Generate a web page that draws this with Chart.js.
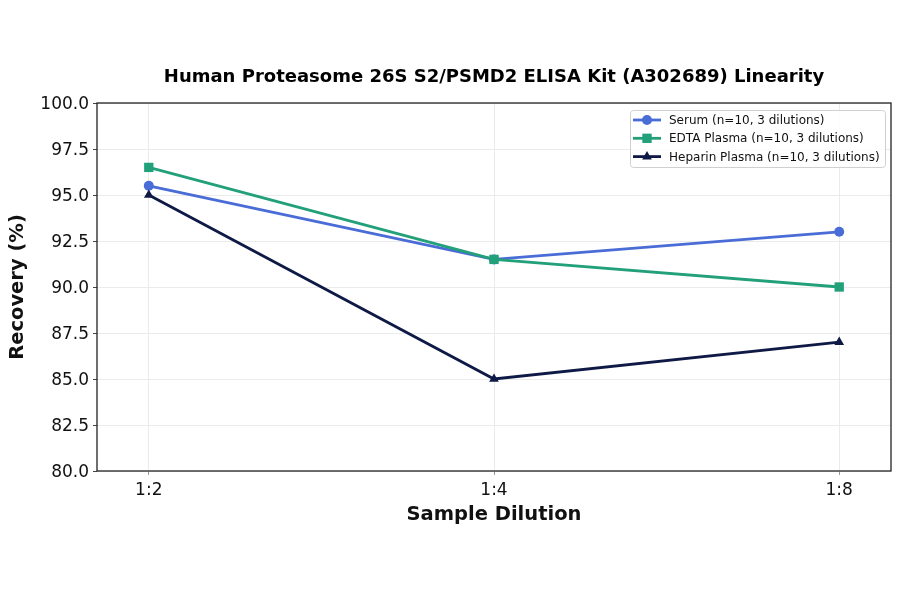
<!DOCTYPE html>
<html>
<head>
<meta charset="utf-8">
<script src="https://cdn.jsdelivr.net/npm/chart.js@4.4.1/dist/chart.umd.min.js"></script>
<style>
  html, body { margin: 0; padding: 0; background: #fff; }
  #wrap { width: 900px; height: 594px; }
</style>
</head>
<body>
<div id="wrap"><canvas id="linearityChart" width="900" height="594"></canvas></div>
<script>
// values
const dilutions = ["1:2", "1:4", "1:8"];
const serum = [95.5, 91.5, 93.0];
const edtaPlasma = [96.5, 91.5, 90.0];
const heparinPlasma = [95.0, 85.0, 87.0];
const seriesNames = [
    "Serum (n=10, 3 dilutions)",
    "EDTA Plasma (n=10, 3 dilutions)",
    "Heparin Plasma (n=10, 3 dilutions)"
];
const seriesColors = ["#4a6cd6", "#22a07a", "#0e1a45"];
const seriesMarkers = ["circle", "rect", "triangle"];
const markerSizes = [5, 6.6, 5.6];
const chartTitle = "Human Proteasome 26S S2/PSMD2 ELISA Kit (A302689) Linearity";

const FONT = "'DejaVu Sans', 'Liberation Sans', sans-serif";

function toPoints(values) {
    return values.map((v, i) => ({ x: i, y: v }));
}

var allSeries = [serum, edtaPlasma, heparinPlasma];
var datasets = [];
for (var k = 0; k < allSeries.length; k++) {
    datasets.push({
        label: seriesNames[k],
        data: toPoints(allSeries[k]),
        borderColor: seriesColors[k],
        backgroundColor: seriesColors[k],
        borderWidth: 2.8,
        pointStyle: seriesMarkers[k],
        pointRadius: markerSizes[k],
        pointHoverRadius: markerSizes[k],
        pointBorderWidth: 0,
        tension: 0,
        order: allSeries.length - k
    });
}

// frame around the plot, title above it and a boxed legend inside it
const decorations = {
    id: "decorations",
    afterDatasetsDraw(chart) {
        const { ctx, chartArea: a } = chart;
        ctx.save();
        ctx.strokeStyle = "#222";
        ctx.lineWidth = 1.3;
        ctx.strokeRect(a.left, a.top, a.right - a.left, a.bottom - a.top);
        ctx.restore();
    },
    afterDraw(chart) {
        const { ctx, chartArea: a } = chart;
        ctx.save();
        ctx.fillStyle = "#000";
        ctx.font = "bold 18px " + FONT;
        ctx.textAlign = "center";
        ctx.textBaseline = "middle";
        ctx.fillText(chartTitle, (a.left + a.right) / 2, 77);

        // legend box
        const bx = 630, by = 110, bw = 255, bh = 57;
        ctx.fillStyle = "rgba(255,255,255,0.85)";
        ctx.strokeStyle = "#d0d0d0";
        ctx.lineWidth = 1;
        ctx.beginPath();
        ctx.roundRect(bx + 0.5, by + 0.5, bw, bh, 3);
        ctx.fill();
        ctx.stroke();

        ctx.font = "12px " + FONT;
        ctx.textAlign = "left";
        for (var i = 0; i < seriesNames.length; i++) {
            const ry = by + 10 + i * 18.3;
            ctx.strokeStyle = seriesColors[i];
            ctx.lineWidth = 2.8;
            ctx.beginPath();
            ctx.moveTo(bx + 3, ry);
            ctx.lineTo(bx + 31, ry);
            ctx.stroke();
            ctx.fillStyle = seriesColors[i];
            Chart.helpers.drawPoint(ctx, {
                pointStyle: seriesMarkers[i],
                radius: markerSizes[i],
                borderWidth: 0
            }, bx + 17, ry);
            ctx.fillStyle = "#111";
            ctx.fillText(seriesNames[i], bx + 39, ry + 1);
        }
        ctx.restore();
    }
};

var ctx = document.getElementById("linearityChart");
var linearityChart = new Chart(ctx, {
    type: "line",
    data: { datasets: datasets },
    plugins: [decorations],
    options: {
        responsive: false,
        maintainAspectRatio: false,
        animation: false,
        layout: { padding: { top: 103, right: 9, left: 0, bottom: 0 } },
        plugins: {
            legend: { display: false },
            title: { display: false },
            tooltip: { enabled: false }
        },
        scales: {
            x: {
                type: "linear",
                min: -0.15,
                max: 2.15,
                afterBuildTicks: (scale) => {
                    scale.ticks = dilutions.map((d, i) => ({ value: i }));
                },
                afterFit: (scale) => { scale.height = 123; },
                ticks: {
                    autoSkip: false,
                    maxRotation: 0,
                    padding: 5,
                    color: "#111",
                    font: { family: FONT, size: 17 },
                    callback: (v) => dilutions[v] !== undefined ? dilutions[v] : ""
                },
                grid: {
                    color: "#ebebeb",
                    lineWidth: 1,
                    tickLength: 4,
                    tickColor: "#999"
                },
                border: { display: false },
                title: {
                    display: true,
                    text: "Sample Dilution",
                    color: "#111",
                    font: { family: FONT, size: 19.5, weight: "bold" },
                    padding: { top: 0, bottom: 67 }
                }
            },
            y: {
                min: 80,
                max: 100,
                afterFit: (scale) => { scale.width = 97; },
                ticks: {
                    stepSize: 2.5,
                    padding: 4,
                    labelOffset: 2,
                    color: "#111",
                    font: { family: FONT, size: 17 },
                    callback: (v) => Number(v).toFixed(1)
                },
                grid: {
                    color: "#ebebeb",
                    lineWidth: 1,
                    tickLength: 4,
                    tickColor: "#444"
                },
                border: { display: false },
                title: {
                    display: true,
                    text: "Recovery (%)",
                    color: "#111",
                    font: { family: FONT, size: 19.5, weight: "bold" },
                    padding: { top: 6, bottom: 0 }
                }
            }
        }
    }
});
</script>
</body>
</html>
